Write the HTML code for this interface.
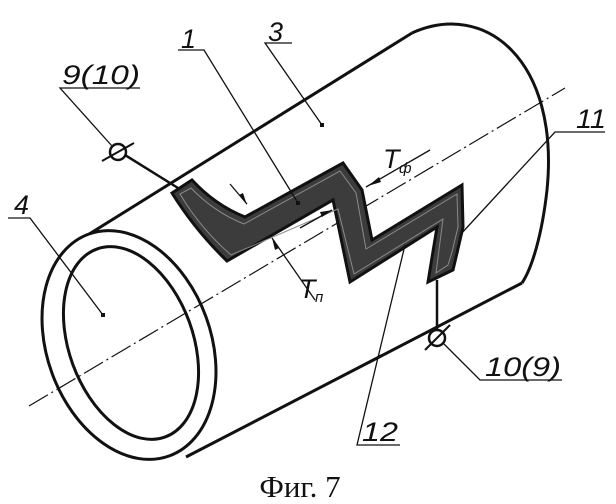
<!DOCTYPE html>
<html><head><meta charset="utf-8"><style>
html,body{margin:0;padding:0;background:#fff;}
svg{display:block;}
text{font-family:"Liberation Sans",sans-serif;font-style:italic;fill:#111;}
</style></head><body>
<svg width="616" height="504" viewBox="0 0 616 504" xmlns="http://www.w3.org/2000/svg">
<g fill="none" stroke="#111" stroke-width="3">
  <path d="M412,33 C485,0 560,60 547,190 C542,235 532,268 522,283"/>
  <line x1="86" y1="236" x2="412" y2="33"/>
  <line x1="186" y1="457" x2="522" y2="283"/>
  <ellipse cx="129" cy="345" rx="82" ry="118" transform="rotate(-20 129 345)" fill="#fff"/>
  <ellipse cx="131" cy="343" rx="62" ry="100" transform="rotate(-20 131 343)"/>
</g>
<line x1="29" y1="406" x2="565" y2="88" stroke="#111" stroke-width="1.2" stroke-dasharray="22,4,2,4"/>
<!-- strip -->
<path d="M172,193 L192,180 Q215,205 245,217 L343,163 L362,190 L372,240 L462,185 L463,227 L457,253 L453,270 L428,282 L437,227 L350,282 L333,200 L227,261 Q195,230 172,193 Z" fill="#3c3c3c" stroke="#111" stroke-width="3" stroke-linejoin="miter"/>
<path d="M180,194 L191,188 Q214,212 244,224 L340,171 L356,193 L366,249 L457,194 L458,227 L452,252 L448,265 L436,273 L443,219 L354,274 L338,209 L231,255 Q200,228 180,194 Z" fill="none" stroke="#8a8a8a" stroke-width="1"/>
<g stroke="#111" fill="none">
  <line x1="125" y1="155" x2="178" y2="188" stroke-width="2.5"/>
  <circle cx="118" cy="152" r="8" stroke-width="2.5" fill="#fff"/>
  <line x1="102" y1="161" x2="134" y2="143" stroke-width="2"/>
  <line x1="437" y1="280" x2="437" y2="330" stroke-width="2.5"/>
  <circle cx="437" cy="338" r="8" stroke-width="2.5" fill="#fff"/>
  <line x1="425" y1="350" x2="450" y2="325" stroke-width="2"/>
  <g stroke-width="1.3">
    <polyline points="112,146 60,88 140,88"/>
    <polyline points="444,344 480,380 562,380"/>
    <polyline points="103,315 30,218 8,218"/>
    <polyline points="298,203 204,50 178,50"/>
    <polyline points="322,125 265,43 292,43"/>
    <polyline points="460,235 555,132 605,132"/>
    <polyline points="405,245 357,445 400,445"/>
    <line x1="366" y1="187" x2="430" y2="150"/>
    <line x1="300" y1="228" x2="332" y2="210"/>
    <line x1="230" y1="184" x2="247" y2="204"/>
    <line x1="272" y1="238" x2="315" y2="300"/>
  </g>
</g>
<g fill="#111">
  <rect x="101" y="313" width="4" height="4"/>
  <rect x="296" y="201" width="4" height="4"/>
  <rect x="320" y="123" width="4" height="4"/>
  <polygon points="368,186 379,177 381,182"/>
  <polygon points="333,210 322,217 320,212"/>
  <polygon points="247,205 239,195 243,193"/>
  <polygon points="272,238 279,248 275,250"/>
</g>
<g font-size="27">
  <text x="62" y="84" textLength="78" lengthAdjust="spacingAndGlyphs">9(10)</text>
  <text x="485" y="376" textLength="76" lengthAdjust="spacingAndGlyphs">10(9)</text>
  <text x="14" y="214">4</text>
  <text x="181" y="48">1</text>
  <text x="268" y="41">3</text>
  <text x="576" y="128" textLength="30" lengthAdjust="spacingAndGlyphs">11</text>
  <text x="362" y="441" textLength="36" lengthAdjust="spacingAndGlyphs">12</text>
  <text x="383" y="168">T</text>
  <text x="299" y="298">T</text>
</g>
<g font-size="15">
  <text x="399" y="173">ф</text>
  <text x="315" y="302">п</text>
</g>
<text x="300" y="497" font-size="31" text-anchor="middle" style="font-family:'Liberation Serif',serif;font-style:normal;">Фиг. 7</text>
</svg>
</body></html>
